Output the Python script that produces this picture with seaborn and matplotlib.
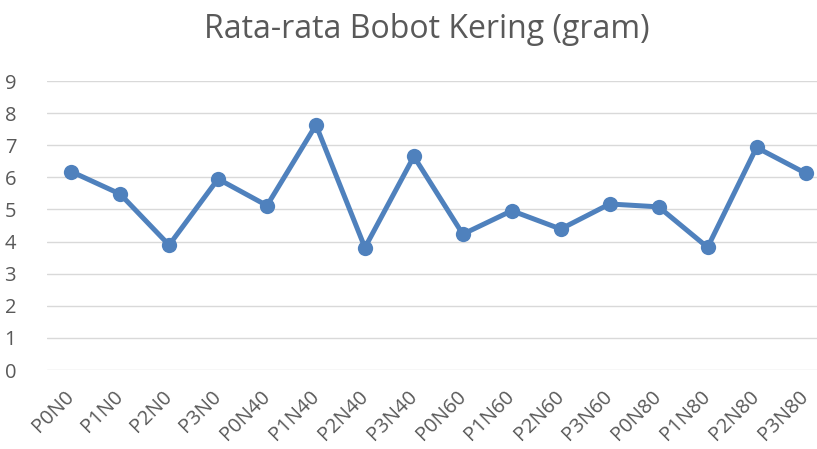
import matplotlib
matplotlib.use("Agg")
import matplotlib.pyplot as plt
import seaborn as sns
import pandas as pd

categories = ["P0N0", "P1N0", "P2N0", "P3N0", "P0N40", "P1N40", "P2N40", "P3N40",
              "P0N60", "P1N60", "P2N60", "P3N60", "P0N80", "P1N80", "P2N80", "P3N80"]
values = [6.18, 5.48, 3.89, 5.95, 5.12, 7.63, 3.81, 6.65,
          4.23, 4.96, 4.39, 5.17, 5.08, 3.82, 6.93, 6.13]
yticks = [0, 1, 2, 3, 4, 5, 6, 7, 8, 9]
title = "Rata-rata Bobot Kering (gram)"

sns.set_theme(style="white")
plt.rcParams['font.family'] = ['Open Sans', 'DejaVu Sans']

df = pd.DataFrame({"perlakuan": categories, "bobot": values})
df["pos"] = range(len(categories))

fig = plt.figure(figsize=(8.17, 4.49), dpi=100)
ax = fig.add_axes([46.7 / 817, 1 - 370 / 449, (830 - 46.7) / 817, (370 - 81) / 449])

sns.lineplot(data=df, x="pos", y="bobot", sort=False, ax=ax, color="#4F81BD",
             linewidth=3.6, marker="o", markersize=11, markeredgewidth=0, zorder=3)

ax.set_xlim(-0.5, len(categories) - 0.5)
ax.set_ylim(0, 9)
ax.set_yticks(yticks)
ax.set_yticklabels([str(t) for t in yticks])
ax.set_xticks(df["pos"])
ax.set_xticklabels(categories, rotation=45, ha="right", va="center",
                   rotation_mode="anchor")
ax.tick_params(axis="both", length=0, labelsize=14.5, labelcolor="#595959")
ax.tick_params(axis="y", pad=22)
ax.tick_params(axis="x", pad=17)
ax.grid(axis="y", color="#D9D9D9", linewidth=1.0)
ax.set_axisbelow(True)
for s in ax.spines.values():
    s.set_visible(False)
ax.set_xlabel("")
ax.set_ylabel("")

fig.text(427 / 817, 1 - 30 / 449, title, ha="center", va="center", fontsize=23,
         color="#595959")

fig.savefig("out.png", dpi=100)
